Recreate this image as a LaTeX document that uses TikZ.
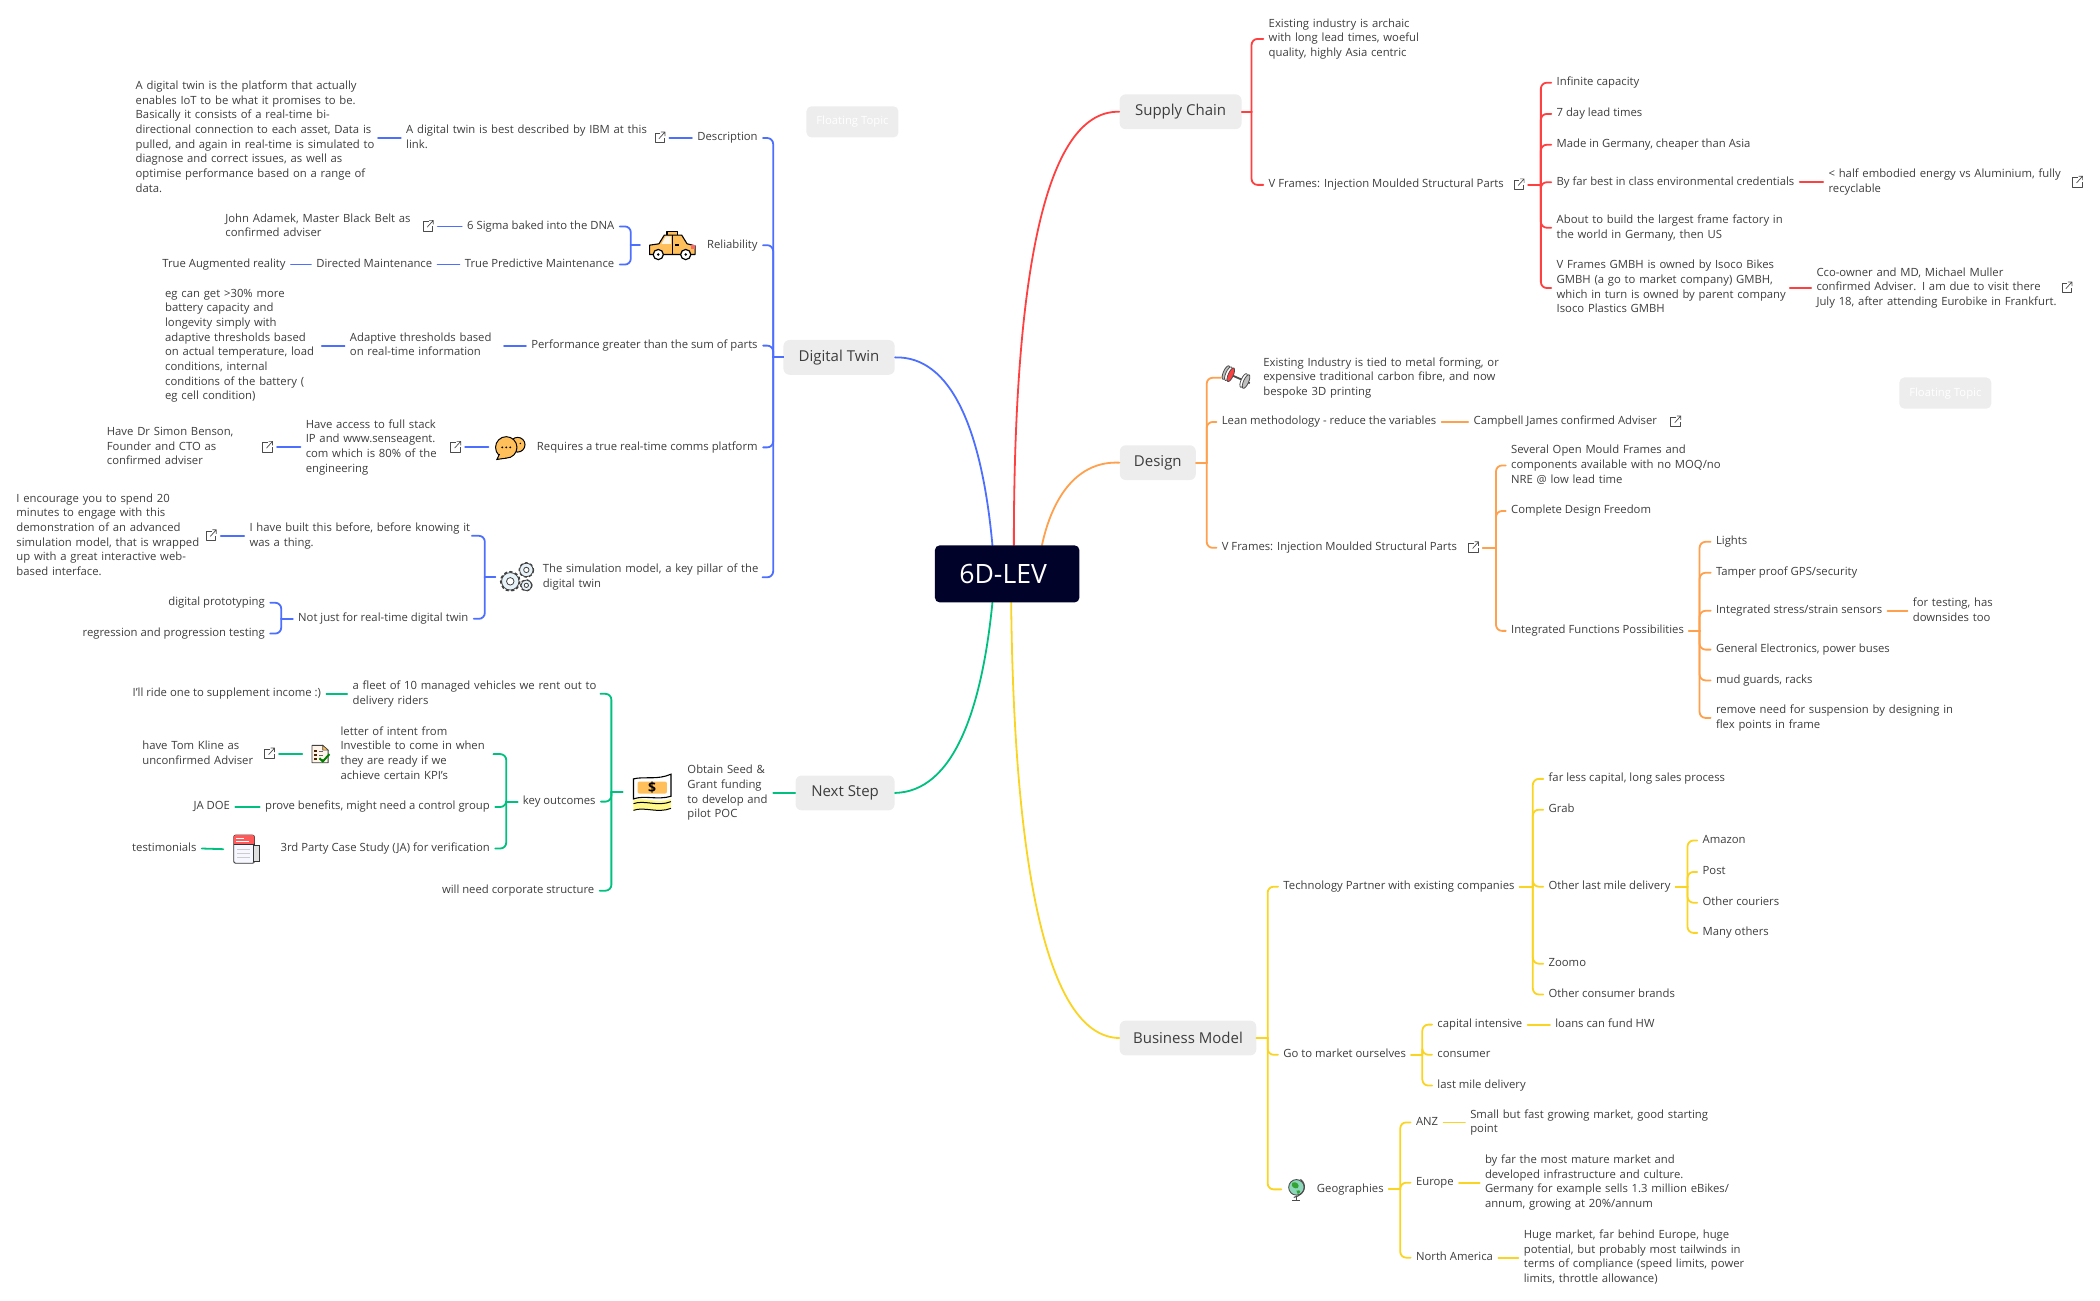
\documentclass[tikz,border=0pt]{standalone}
\usepackage{fontspec}
\setmainfont{Open Sans}
\definecolor{cRed}{HTML}{FF4040}
\definecolor{cOra}{HTML}{FFA04D}
\definecolor{cYel}{HTML}{F9D423}
\definecolor{cBlu}{HTML}{4D6FFF}
\definecolor{cGre}{HTML}{00C07F}
\definecolor{cTxt}{HTML}{3D3D3D}
\definecolor{cIco}{HTML}{FFC05C}
\definecolor{cNavy}{HTML}{000229}
\newcommand\txtfont{\fontsize{5.65}{7.33}\selectfont}
\newcommand\topfont{\fontsize{7.5}{10}\selectfont}
\tikzset{
 base/.style={font=\txtfont,text=cTxt,inner ysep=0pt,inner xsep=2.5pt,yshift=-0.7pt,
   execute at begin node=\strut,execute at end node=\strut},
 R/.style={base,anchor=west,xshift=-2.5pt},
 L/.style={base,anchor=east,xshift=2.5pt},
 tw/.style={text width=#1*0.66964pt,align=left,execute at begin node={\rightskip=-30pt plus 1fil\relax\strut}},
 topic/.style={fill=black!7,rounded corners=3pt,font=\topfont,text=cTxt,inner sep=0pt,minimum height=17.4pt},
 floatt/.style={fill=black!7,rounded corners=2.5pt,font=\txtfont,text=white,inner sep=0pt,minimum width=46pt,minimum height=15.6pt},
 conn/.style={line width=0.9pt,line cap=round},
 linkn/.style={minimum width=9.4pt,minimum height=6pt,inner sep=0pt},
 pics/linkicon/.style={code={
   \draw[black!70,line width=.35pt,line join=round] (0.5,-3.5) -- (-3.5,-3.5) -- (-3.5,3.5) -- (3.5,3.5) -- (3.5,0);
   \draw[black!70,line width=.35pt,line join=round] (-0.5,0.5) -- (4,-4.5) (1,-4.5) -- (4,-4.5) -- (4,-1.5);
 }},
 pics/car/.style={code={
   \draw[black,line width=.55pt,fill=cIco,line join=round] (-4,-7) rectangle (4,-10.5);
   \draw[black,line width=.55pt,fill=cIco,line join=round] (-17,0) -- (-10,-1) -- (-6,-7.5) -- (7,-7.5) -- (11,-1) -- (17,0.5) -- (17,7) -- (-17,7) -- cycle;
   \fill[white!85!cIco] (-8,-1) -- (-5,-6.5) -- (-1,-6.5) -- (-1,-1) -- cycle;
   \draw[black,line width=.5pt] (0,-7.5) -- (0,7);
   \fill[black] (2,-0.5) rectangle (5,0.5);
   \fill[red!60] (14,0) rectangle (17,3);
   \foreach \xx in {-10.5,10}{\draw[black,line width=.6pt,fill=white] (\xx,7) circle (3.8);\fill[black] (\xx,7) circle (1);}
 }},
 pics/chat/.style={code={
   \draw[black,line width=.5pt,fill=cIco] (5.5,-2) circle (5.5);
   \draw[black,line width=.5pt,fill=cIco] (-3,0) circle (8);
   \draw[black,line width=.5pt,fill=cIco] (-8,5) -- (-10,9) -- (-3,8) ;
   \fill[cIco] (-7,4) -- (-8.5,8) -- (-3,7.4) -- cycle;
   \foreach \xx in {-6,-3,0}{\fill[black] (\xx,0) circle (.8);}
   \fill[black] (7.5,-3) circle (.6);
 }},
 pics/gears/.style={code={
   \foreach \cx/\cy/\rr/\ri/\lw in {-5/3/6.5/2.8/1.6, 7/-5.5/5/2/1.1, 7/6/4/1.6/1}{
     \draw[black!75,line width=\lw pt,dash pattern=on 1.4pt off 1.1pt] (\cx,\cy) circle (\rr);
     \draw[black!75,line width=.4pt,fill=black!25!cyan!10!white] (\cx,\cy) circle (\rr);
     \draw[black!75,line width=.4pt,fill=white] (\cx,\cy) circle (\ri);
   }
 }},
 pics/money/.style={code={
   \fill[yellow!45!white] (-14,6) .. controls (-6,3) and (4,9) .. (14,5) -- (14,12) .. controls (4,16) and (-6,10) .. (-14,14) -- cycle;
   \draw[black,line width=.55pt,fill=white] (-14,-10) .. controls (-6,-12) and (4,-9) .. (14,-13.5) -- (14,3) .. controls (4,6) and (-6,2) .. (-14,5) -- cycle;
   \fill[cIco,rounded corners=1pt] (-11,-8) rectangle (11,1);
   \node[font=\fontsize{7}{7}\bfseries\selectfont,text=black,inner sep=0] at (0,-3.5) {\$};
   \draw[black,line width=.5pt] (-14,8.5) .. controls (-6,5.5) and (4,11) .. (14,7);
   \draw[black,line width=.5pt] (-14,13.5) .. controls (-6,10.5) and (4,16) .. (14,12);
 }},
 pics/docic/.style={code={
   \draw[black!75,line width=.4pt,fill=orange!8!white,line join=round] (-6,-6.5) -- (2,-6.5) -- (6,-3) -- (6,6.5) -- (-6,6.5) -- cycle;
   \draw[black!75,line width=.3pt,fill=cIco] (2,-6.5) -- (2,-3) -- (6,-3) -- cycle;
   \foreach \yy in {-3,0,3}{\fill[black!70!orange] (-4.5,\yy) rectangle (-2.5,\yy+1.5);\draw[black!60,line width=.25pt] (-1,\yy+.7) -- (2,\yy+.7);}
   \draw[green!50!black,line width=1pt] (-0.5,3) -- (2,5.5) -- (7,0);
 }},
 pics/notebook/.style={code={
   \draw[black!80,line width=.45pt,fill=blue!3!white,rounded corners=1pt] (-9.5,-10.5) rectangle (6,10.5);
   \fill[red!65!white,rounded corners=1pt] (-9.5,-10.5) rectangle (6,-3.5);
   \draw[black!80,line width=.45pt] (-9.5,-3.5) -- (6,-3.5);
   \draw[white,line width=.4pt] (-7.5,-8) -- (-2,-8) (-7.5,-6) -- (2,-6);
   \draw[black!20,line width=.45pt] (-7,0) -- (3,0) (-7,3) -- (3,3) (-7,6) -- (3,6);
   \draw[black!80,line width=.45pt,fill=black!12] (5,-3) rectangle (9.5,9) ;
 }},
 pics/globe/.style={code={
   \draw[black!70,line width=.45pt,fill=cyan!35!green!45!white] (0,-1.5) circle (5.8);
   \fill[green!55!black!80] (-3,-5) .. controls (0,-6.5) and (3,-3) .. (1,-1) .. controls (-1,0) and (-5,-2) .. (-3,-5);
   \fill[green!55!black!80] (0,1) .. controls (3,0) and (4,2) .. (1,3.5) -- cycle;
   \draw[black!70,line width=.5pt] (3,-7.5) .. controls (8,-4) and (7,4) .. (-2,6);
   \draw[black!70,line width=.6pt] (0,5) -- (0,8) (-3,8.5) -- (3,8.5);
 }},
 pics/drill/.style={code={
   \begin{scope}[rotate=-24]
   \draw[black!70,line width=.9pt] (-11,0) -- (10,0);
   \foreach \yy/\cc in {-9.5/black!25,-7.5/white,-5.5/red!75,5/white,7/black!25}{
     \draw[black!70,line width=.4pt,fill=\cc] (\yy,0) ellipse (1.9 and 5.5);
   }
   \end{scope}
 }},
}
\newcommand\brR[3]{\draw[br,conn] (#1.east) -- (#2 |- #1.east);\draw[br,conn,rounded corners=3pt] (#2 |- #1.east) -- (#2 |- #3.west) -- (#3.west);}
\newcommand\brL[3]{\draw[br,conn] (#1.west) -- (#2 |- #1.west);\draw[br,conn,rounded corners=3pt] (#2 |- #1.west) -- (#2 |- #3.east) -- (#3.east);}
\newcommand\lnR[2]{\draw[br,conn] (#1.east) -- (#2.west);}
\newcommand\lnL[2]{\draw[br,conn] (#1.west) -- (#2.east);}
\newcommand\lk[3]{\node[linkn,yshift=-0.7pt] (#1) at (#2,#3) {};\pic[yshift=-0.7pt] at (#2,#3) {linkicon};}
\newcommand\icn[5]{\node[inner sep=0pt,minimum height=6pt,minimum width=#5*0.66964pt,yshift=-0.7pt] (#1) at (#3,#4) {};\pic[yshift=-0.7pt] at (#3,#4) {#2};}
\begin{document}
\begin{tikzpicture}[x=0.66964pt,y=-0.66964pt]
\useasboundingbox (0,0) rectangle (1568,970.67);
% centre and main topics
\node[topic,minimum width=61pt,yshift=-0.7pt] (sc) at (881.5,82.4) {Supply Chain};
\node[topic,minimum width=38pt,yshift=-0.7pt] (de) at (864.5,344.4) {Design};
\node[topic,minimum width=68.3pt,yshift=-0.7pt] (bm) at (887,774) {Business Model};
\node[topic,minimum width=55.6pt,yshift=-0.7pt] (dt) at (626.5,265.8) {Digital Twin};
\node[topic,minimum width=49.5pt,yshift=-0.7pt] (ns) at (631,591) {Next Step};
\node[floatt] (f1) at (636.5,91) {Floating Topic};
\node[floatt] (f2) at (1452.5,293.5) {Floating Topic};
\coordinate (c1) at (757,407);
\coordinate (c2) at (778,407);
\coordinate (c3) at (755,450);
\coordinate (c4) at (741,407);
\coordinate (c5) at (741,450);
\draw[cRed,conn] (c1) .. controls (757,230) and (775,82) .. (sc.west);
\draw[cOra,conn] (c2) .. controls (786,370) and (805,344) .. (de.west);
\draw[cYel,conn] (c3) .. controls (757,640) and (780,774) .. (bm.west);
\draw[cBlu,conn] (c4) .. controls (733,320) and (710,265.8) .. (dt.east);
\draw[cGre,conn] (c5) .. controls (733,530) and (712,591) .. (ns.east);
\node[fill=cNavy,rounded corners=2.5pt,text=white,inner sep=0pt,minimum width=72.3pt,minimum height=28.6pt,font=\fontsize{13.3}{15}\selectfont] (cen) at (752,428.5) {\hspace*{-2pt}6D-LEV\hspace*{2pt}};

% SUPPLY CHAIN
\begin{scope}[br/.style={draw=cRed}]
\coordinate (t1) at (934.5,0);\coordinate (t2) at (1150.5,0);
\node[R,tw=125] (s1) at (947,28) {Existing industry is archaic\\with long lead times, woeful\\quality, highly Asia centric};
\node[R] (s2) at (947,137) {V Frames: Injection Moulded Structural Parts};
\lk{sl}{1134}{137}
\node[R] (s3) at (1162,60.7) {Infinite capacity};
\node[R] (s4) at (1162,84) {7 day lead times};
\node[R] (s5) at (1162,107) {Made in Germany, cheaper than Asia};
\node[R] (s6) at (1162,135) {By far best in class environmental credentials};
\node[R,tw=180] (s7) at (1162,169) {About to build the largest frame factory in\\the world in Germany, then US};
\node[R,tw=170] (s8) at (1162,214) {V Frames GMBH is owned by Isoco Bikes\\GMBH (a go to market company) GMBH,\\which in turn is owned by parent company\\Isoco Plastics GMBH};
\node[R,tw=180] (s9) at (1365,135) {< half embodied energy vs Aluminium, fully\\recyclable};
\lk{s9l}{1551}{135}
\node[R,tw=180] (s10) at (1356,214) {Cco-owner and MD, Michael Muller\\confirmed Adviser. I am due to visit there\\July 18, after attending Eurobike in Frankfurt.};
\lk{s10l}{1543}{214}
\brR{sc}{t1}{s1}\brR{sc}{t1}{s2}
\brR{sl}{t2}{s3}\brR{sl}{t2}{s4}\brR{sl}{t2}{s5}\brR{sl}{t2}{s6}\brR{sl}{t2}{s7}\brR{sl}{t2}{s8}
\lnR{s6}{s9}\lnR{s8}{s10}
\end{scope}

% DESIGN
\begin{scope}[br/.style={draw=cOra}]
\coordinate (t3) at (901,0);\coordinate (t4) at (1117,0);\coordinate (t5) at (1269,0);
\icn{dic}{drill}{924}{281}{24}
\node[R,tw=190] (d1) at (943,281) {Existing Industry is tied to metal forming, or\\expensive traditional carbon fibre, and now\\bespoke 3D printing};
\node[R] (d2) at (912,314) {Lean methodology - reduce the variables};
\node[R] (d3) at (1100,314) {Campbell James confirmed Adviser};
\lk{d3l}{1251}{314}
\node[R] (d4) at (912,408) {V Frames: Injection Moulded Structural Parts};
\lk{d4l}{1100}{408}
\node[R,tw=170] (d5) at (1128,346.5) {Several Open Mould Frames and\\components available with no MOQ/no\\NRE @ low lead time};
\node[R] (d6) at (1128,380.5) {Complete Design Freedom};
\node[R] (d7) at (1128,470) {Integrated Functions Possibilities};
\node[R] (d8) at (1281,403.5) {Lights};
\node[R] (d9) at (1281,426.6) {Tamper proof GPS/security};
\node[R] (d10) at (1281,455) {Integrated stress/strain sensors};
\node[R] (d11) at (1281,484) {General Electronics, power buses};
\node[R] (d12) at (1281,507) {mud guards, racks};
\node[R,tw=185] (d13) at (1281,535) {remove need for suspension by designing in\\flex points in frame};
\node[R,tw=70] (d14) at (1428,455) {for testing, has\\downsides too};
\brR{de}{t3}{dic}\brR{de}{t3}{d2}\brR{de}{t3}{d4}
\lnR{d2}{d3}
\brR{d4l}{t4}{d5}\brR{d4l}{t4}{d6}\brR{d4l}{t4}{d7}
\brR{d7}{t5}{d8}\brR{d7}{t5}{d9}\brR{d7}{t5}{d10}\brR{d7}{t5}{d11}\brR{d7}{t5}{d12}\brR{d7}{t5}{d13}
\lnR{d10}{d14}
\end{scope}

% BUSINESS MODEL
\begin{scope}[br/.style={draw=cYel}]
\coordinate (t6) at (946.5,0);\coordinate (t7) at (1144.5,0);\coordinate (t8) at (1260,0);\coordinate (t9) at (1062,0);\coordinate (t10) at (1045.5,0);
\node[R] (b1) at (958,661) {Technology Partner with existing companies};
\node[R] (b2) at (1156,580.5) {far less capital, long sales process};
\node[R] (b3) at (1156,603.5) {Grab};
\node[R] (b4) at (1156,661) {Other last mile delivery};
\node[R] (b5) at (1156,718.5) {Zoomo};
\node[R] (b6) at (1156,741.5) {Other consumer brands};
\node[R] (b7) at (1271,626.5) {Amazon};
\node[R] (b8) at (1271,650) {Post};
\node[R] (b9) at (1271,673) {Other couriers};
\node[R] (b10) at (1271,695.5) {Many others};
\node[R] (b11) at (958,786.5) {Go to market ourselves};
\node[R] (b12) at (1073,764) {capital intensive};
\node[R] (b13) at (1073,786.5) {consumer};
\node[R] (b14) at (1073,809.5) {last mile delivery};
\node[R] (b15) at (1161,764) {loans can fund HW};
\icn{bic}{globe}{968}{887}{22}
\node[R] (b16) at (983,887) {Geographies};
\node[R] (b17) at (1057,837) {ANZ};
\node[R] (b18) at (1057,882) {Europe};
\node[R] (b19) at (1057,938) {North America};
\node[R,tw=190] (b20) at (1097.5,837) {Small but fast growing market, good starting\\point};
\node[R,tw=190] (b21) at (1108.5,882) {by far the most mature market and\\developed infrastructure and culture.\\Germany for example sells 1.3 million eBikes/\\annum, growing at 20\%/annum};
\node[R,tw=180] (b22) at (1137.5,938) {Huge market, far behind Europe, huge\\potential, but probably most tailwinds in\\terms of compliance (speed limits, power\\limits, throttle allowance)};
\brR{bm}{t6}{b1}\brR{bm}{t6}{b11}\brR{bm}{t6}{bic}
\brR{b1}{t7}{b2}\brR{b1}{t7}{b3}\brR{b1}{t7}{b4}\brR{b1}{t7}{b5}\brR{b1}{t7}{b6}
\brR{b4}{t8}{b7}\brR{b4}{t8}{b8}\brR{b4}{t8}{b9}\brR{b4}{t8}{b10}
\brR{b11}{t9}{b12}\brR{b11}{t9}{b13}\brR{b11}{t9}{b14}
\lnR{b12}{b15}
\brR{b16}{t10}{b17}\brR{b16}{t10}{b18}\brR{b16}{t10}{b19}
\lnR{b17}{b20}\lnR{b18}{b21}\lnR{b19}{b22}
\end{scope}

% DIGITAL TWIN
\begin{scope}[br/.style={draw=cBlu}]
\coordinate (t11) at (577.3,0);\coordinate (t12) at (471,0);\coordinate (t13) at (362,0);\coordinate (t14) at (210,0);
\node[L] (l1) at (566,102) {Description};
\lk{l1k}{492.5}{102}
\node[R,tw=180] (l2) at (303,102) {A digital twin is best described by IBM at this\\link.};
\node[R,tw=177] (l3) at (101,102) {A digital twin is the platform that actually\\enables IoT to be what it promises to be.\\Basically it consists of a real-time bi-\\directional connection to each asset, Data is\\pulled, and again in real-time is simulated to\\diagnose and correct issues, as well as\\optimise performance based on a range of\\data.};
\node[L] (l4) at (566,182) {Reliability};
\icn{lcar}{car}{502}{182}{48}
\node[L] (l5) at (459,168) {6 Sigma baked into the DNA};
\lk{l5k}{319.5}{168}
\node[R,tw=145] (l6) at (168,168) {John Adamek, Master Black Belt as\\confirmed adviser};
\node[L] (l7) at (459,196.5) {True Predictive Maintenance};
\node[L] (l8) at (323,196.5) {Directed Maintenance};
\node[L] (l9) at (213.5,196.5) {True Augmented reality};
\node[L] (l10) at (566,257) {Performance greater than the sum of parts};
\node[R,tw=111] (l11) at (261,257) {Adaptive thresholds based\\on real-time information};
\node[R,tw=113] (l12) at (123,257) {eg can get >30\% more\\battery capacity and\\longevity simply with\\adaptive thresholds based\\on actual temperature, load\\conditions, internal\\conditions of the battery (\\eg cell condition)};
\node[L] (l13) at (566,333) {Requires a true real-time comms platform};
\icn{lch}{chat}{381}{333}{32}
\lk{l14k}{340}{333}
\node[R,tw=100] (l14) at (228,333) {Have access to full stack\\IP and www.senseagent.\\com which is 80\% of the\\engineering};
\lk{l15k}{199.5}{333}
\node[R,tw=110] (l15) at (79.5,333) {Have Dr Simon Benson,\\Founder and CTO as\\confirmed adviser};
\node[R,tw=160] (l16) at (405,430) {The simulation model, a key pillar of the\\digital twin};
\icn{lge}{gears}{386}{430}{32}
\node[R,tw=162] (l17) at (186,399) {I have built this before, before knowing it\\was a thing.};
\lk{l18k}{157.5}{399}
\node[R,tw=140] (l18) at (12,399) {I encourage you to spend 20\\minutes to engage with this\\demonstration of an advanced\\simulation model, that is wrapped\\up with a great interactive web-\\based interface.};
\node[L] (l19) at (350,461) {Not just for real-time digital twin};
\node[L] (l20) at (198,449) {digital prototyping};
\node[L] (l21) at (198,472) {regression and progression testing};
\brL{dt}{t11}{l1}\brL{dt}{t11}{l4}\brL{dt}{t11}{l10}\brL{dt}{t11}{l13}\brL{dt}{t11}{l16}
\lnL{l1}{l1k}\lnL{l2}{l3}
\brL{lcar}{t12}{l5}\brL{lcar}{t12}{l7}
\lnL{l5}{l5k}\lnL{l7}{l8}\lnL{l8}{l9}
\lnL{l10}{l11}\lnL{l11}{l12}
\lnL{lch}{l14k}\lnL{l14}{l15k}
\brL{lge}{t13}{l17}\brL{lge}{t13}{l19}
\lnL{l17}{l18k}
\brL{l19}{t14}{l20}\brL{l19}{t14}{l21}
\end{scope}

% NEXT STEP
\begin{scope}[br/.style={draw=cGre}]
\coordinate (t15) at (456.5,0);\coordinate (t16) at (378,0);
\node[R,tw=60] (n1) at (513,591) {Obtain Seed \&\\Grant funding\\to develop and\\pilot POC};
\icn{nmo}{money}{487}{590.5}{44}
\node[R,tw=181] (n2) at (263,517) {a fleet of 10 managed vehicles we rent out to\\delivery riders};
\node[L] (n3) at (240,517) {I'll ride one to supplement income :)};
\node[L] (n4) at (445,597.5) {key outcomes};
\node[R,tw=110] (n5) at (254,562) {letter of intent from\\Investible to come in when\\they are ready if we\\achieve certain KPI's};
\icn{ndo}{docic}{239}{562}{26}
\lk{n6k}{201}{562}
\node[R,tw=88] (n6) at (106,562) {have Tom Kline as\\unconfirmed Adviser};
\node[L] (n7) at (366,601.5) {prove benefits, might need a control group};
\node[L] (n8) at (172,601.5) {JA DOE};
\node[L] (n9) at (366,632.5) {3rd Party Case Study (JA) for verification};
\icn{nno}{notebook}{184}{633}{34}
\node[L] (n10) at (147,632.5) {testimonials};
\node[L] (n11) at (444,664) {will need corporate structure};
\lnL{ns}{n1}
\brL{nmo}{t15}{n2}\brL{nmo}{t15}{n4}\brL{nmo}{t15}{n11}
\lnL{n2}{n3}
\brL{n4}{t16}{n5}\brL{n4}{t16}{n7}\brL{n4}{t16}{n9}
\lnL{ndo}{n6k}
\lnL{n7}{n8}\lnL{nno}{n10}
\end{scope}
\end{tikzpicture}
\end{document}
